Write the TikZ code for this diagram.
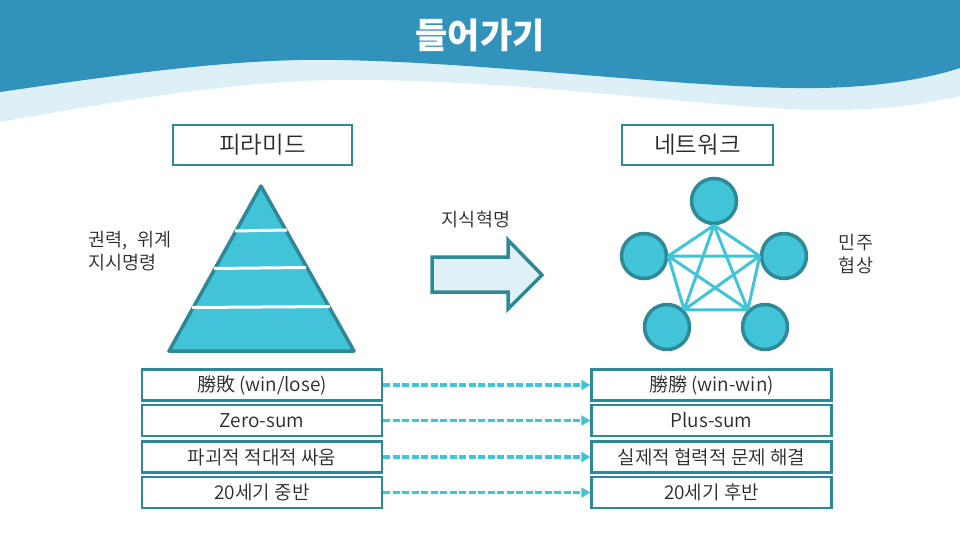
\documentclass[tikz,border=0pt]{standalone}
\usepackage{fontspec}
\usetikzlibrary{arrows.meta}
\setmainfont{Noto Sans CJK KR}
\newfontfamily\lightkr{Noto Sans CJK KR DemiLight}
\definecolor{hdr}{HTML}{3193BC}
\definecolor{hdrlight}{HTML}{DDF0F6}
\definecolor{tealfill}{HTML}{41C3D8}
\definecolor{tealdark}{HTML}{2E8896}
\definecolor{arrowfill}{HTML}{DFF0F7}
\definecolor{txt}{HTML}{2A2A2A}
\begin{document}
\begin{tikzpicture}[x=1pt,y=-1pt,
  headbox/.style={draw=tealdark,line width=2.2pt,fill=white,inner sep=0pt,minimum height=40pt,text=txt,font=\lightkr\fontsize{23.5}{26}\selectfont},
  rowbox/.style={draw=tealdark,line width=2.4pt,fill=white,inner sep=0pt,minimum width=240pt,minimum height=31pt,text=txt,font=\lightkr\fontsize{19}{21}\selectfont},
  netnode/.style={circle,draw=tealdark,line width=3.5pt,fill=tealfill,minimum size=45pt,inner sep=0pt},
  netedge/.style={draw=tealfill,line width=3pt},
  dasharrow/.style={draw=tealfill,line width=3.4pt,dash pattern=on 7pt off 2.5pt,-{Triangle[length=9pt,width=10pt]}},
  sidetext/.style={text=txt,font=\lightkr\fontsize{18.5}{23}\selectfont,inner sep=0pt}
]
\useasboundingbox (0,0) rectangle (960,540);
% header
\fill[hdrlight] (0,0) -- (960,0) -- (960,96) .. controls (930,103) and (890,110) .. (830,110) .. controls (720,110) and (550,82) .. (370,80) .. controls (260,78) and (150,95) .. (0,122) -- cycle;
\fill[hdr] (0,0) -- (960,0) -- (960,68) .. controls (930,78) and (880,87) .. (820,88) .. controls (700,90) and (500,63) .. (340,60) .. controls (250,58) and (150,70) .. (0,92) -- cycle;
\node[text=white,font=\fontsize{35}{38}\selectfont\bfseries] (title) at (480,35) {들어가기};

% head boxes
\node[headbox,minimum width=179pt] (pyr) at (262.5,145) {피라미드};
\node[headbox,minimum width=151pt] (net) at (697.5,145) {네트워크};

% pyramid
\filldraw[fill=tealfill,draw=tealdark,line width=3.5pt,line join=round] (261,186) -- (354,351) -- (169,351) -- cycle;
\draw[white,line width=3pt] (235,231) -- (287,230);
\draw[white,line width=3pt] (214,268.5) -- (306,267.5);
\draw[white,line width=3pt] (192,307.5) -- (330,306.5);

\node[sidetext,anchor=north west,align=left] (power) at (88,231) {권력,\hspace{6pt} 위계\\지시명령};

% arrow
\node[sidetext] (rev) at (476,219) {지식혁명};
\filldraw[fill=arrowfill,draw=tealdark,line width=3.5pt,line join=miter] (432,257) -- (508,257) -- (508,240) -- (542,275) -- (508,309) -- (508,292) -- (432,292) -- cycle;

% network
\node[netnode] (n1) at (714,201) {};
\node[netnode] (n2) at (644,256) {};
\node[netnode] (n3) at (784,256) {};
\node[netnode] (n4) at (667,327) {};
\node[netnode] (n5) at (765,327) {};
\coordinate (a1) at (n1.south);
\coordinate (a2) at (n2.east);
\coordinate (a3) at (n3.west);
\coordinate (a4) at (n4.north east);
\coordinate (a5) at (n5.north west);
\draw[netedge] (a1) -- (a2) (a1) -- (a3) (a1) -- (a4) (a1) -- (a5)
  (a2) -- (a3) (a2) -- (a4) (a2) -- (a5)
  (a3) -- (a4) (a3) -- (a5) (a4) -- (a5);

\node[sidetext,anchor=north,align=center] (demo) at (856,234) {민주\\협상};

% rows
\node[rowbox] (l1) at (262,385) {勝敗 (win/lose)};
\node[rowbox] (l2) at (262,420.5) {Zero-sum};
\node[rowbox] (l3) at (262,457) {파괴적 적대적 싸움};
\node[rowbox] (l4) at (262,492.5) {20세기 중반};
\node[rowbox] (r1) at (711.5,385) {勝勝 (win-win)};
\node[rowbox] (r2) at (711.5,420.5) {Plus-sum};
\node[rowbox] (r3) at (711.5,457) {실제적 협력적 문제 해결};
\node[rowbox] (r4) at (711.5,492.5) {20세기 후반};
\foreach \i in {1,2,3,4} \draw[dasharrow] (l\i.east) -- (r\i.west);
\end{tikzpicture}
\end{document}
